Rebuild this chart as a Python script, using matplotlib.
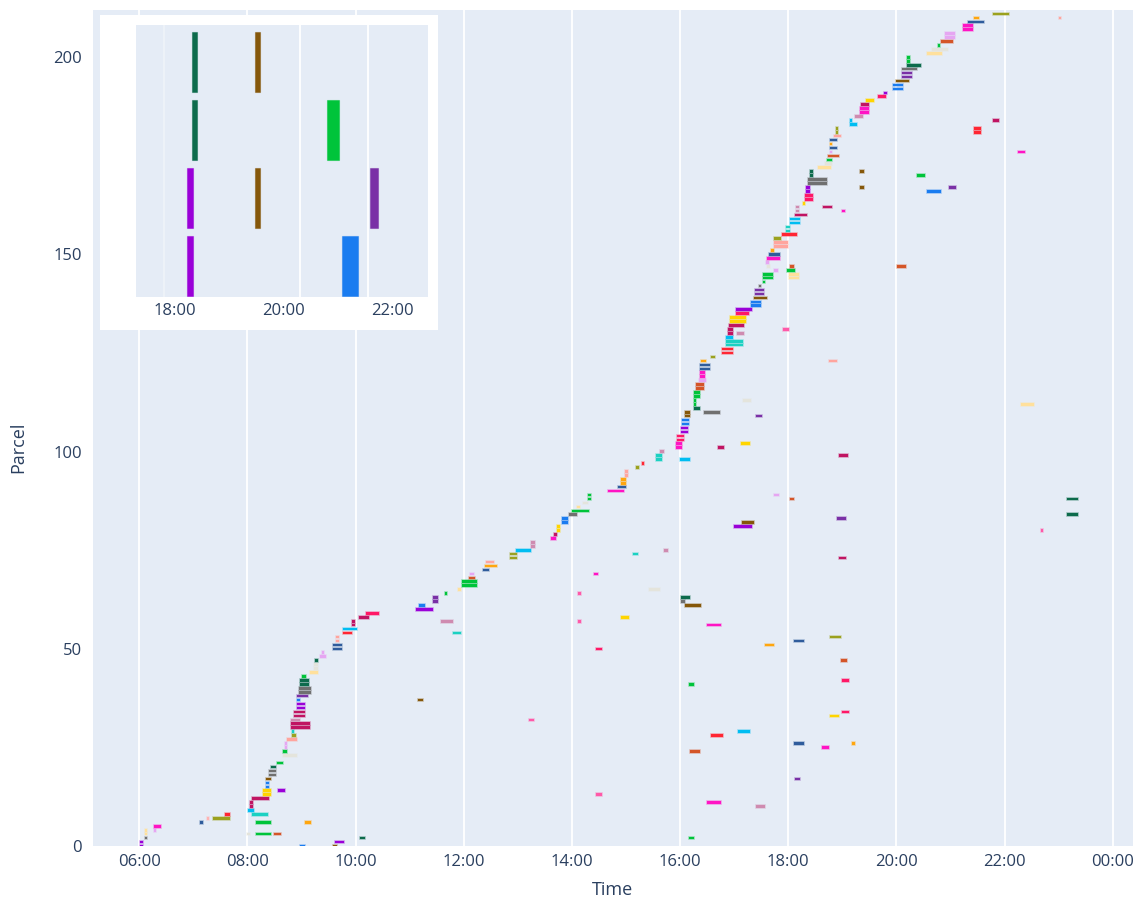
import numpy as np
import matplotlib
matplotlib.use("Agg")
import matplotlib.pyplot as plt
from matplotlib.colors import to_rgba
from matplotlib.ticker import FuncFormatter

# ---- data: one bar per delivery (parcel row, start hour, end hour, vehicle) ----
parcel = [
    0, 1, 2, 3, 4, 4, 5, 6, 7, 7, 8, 8, 9, 10, 11, 12, 13, 14, 14, 15,
    16, 17, 18, 19, 20, 21, 23, 24, 25, 26, 27, 28, 29, 30, 31, 32, 33, 34, 35, 36,
    37, 38, 39, 40, 41, 42, 43, 44, 45, 46, 47, 48, 49, 50, 51, 52, 53, 54, 55, 56,
    57, 58, 59, 60, 61, 62, 63, 64, 65, 66, 67, 68, 69, 70, 71, 72, 73, 74, 75, 76,
    77, 78, 79, 80, 81, 82, 83, 84, 85, 86, 87, 88, 89, 90, 91, 92, 93, 94, 95, 96,
    97, 98, 99, 100, 101, 102, 103, 104, 105, 106, 107, 108, 109, 110, 111, 112, 113, 114, 115, 116,
    117, 118, 119, 120, 121, 122, 123, 124, 125, 126, 127, 128, 129, 130, 130, 131, 132, 133, 134, 135,
    136, 137, 138, 139, 140, 141, 142, 143, 144, 145, 146, 147, 148, 149, 150, 151, 152, 153, 154, 155,
    156, 157, 158, 159, 160, 161, 162, 163, 164, 165, 166, 167, 168, 169, 170, 171, 172, 173, 174, 175,
    176, 177, 178, 179, 180, 181, 182, 183, 184, 185, 186, 187, 188, 189, 190, 191, 192, 193, 194, 195,
    196, 197, 198, 199, 200, 201, 202, 203, 204, 205, 206, 207, 208, 209, 210, 211,
    # late deliveries
    0, 0, 1, 2, 2, 3, 3, 3, 6, 6, 10, 11, 13, 17, 24, 25, 26, 26, 28, 29,
    32, 33, 34, 37, 41, 42, 47, 50, 51, 52, 53, 54, 56, 57, 57, 58, 61, 62, 63, 64,
    65, 69, 73, 74, 75, 80, 81, 82, 83, 84, 88, 88, 89, 98, 99, 101, 102, 109, 110, 112,
    113, 123, 131, 144, 145, 146, 147, 147, 161, 162, 166, 167, 167, 170, 171, 176, 181, 182, 184, 210,
]
start_h = [
    6.02, 6.02, 6.10, 6.10, 6.10, 6.27, 6.27, 7.13, 7.25, 7.37, 7.58, 8.09, 8.01, 8.05, 8.05, 8.09, 8.28, 8.28, 8.57, 8.34,
    8.34, 8.35, 8.39, 8.39, 8.43, 8.54, 8.66, 8.66, 8.69, 8.69, 8.73, 8.82, 8.82, 8.81, 8.81, 8.81, 8.87, 8.87, 8.91, 8.91,
    8.91, 8.92, 8.95, 8.95, 8.97, 8.97, 9.00, 9.15, 9.23, 9.23, 9.25, 9.34, 9.37, 9.58, 9.58, 9.63, 9.63, 9.76, 9.76, 9.93,
    9.93, 10.06, 10.19, 11.12, 11.18, 11.43, 11.43, 11.66, 11.89, 11.97, 11.97, 12.10, 12.12, 12.35, 12.40, 12.41, 12.86, 12.86, 12.96, 13.25,
    13.25, 13.62, 13.66, 13.73, 13.73, 13.81, 13.81, 13.94, 14.00, 14.10, 14.20, 14.30, 14.30, 14.67, 14.85, 14.90, 14.90, 14.99, 14.99, 15.18,
    15.30, 15.55, 15.55, 15.62, 15.92, 15.92, 15.95, 15.95, 16.01, 16.01, 16.04, 16.04, 16.09, 16.09, 16.25, 16.25, 16.25, 16.25, 16.25, 16.29,
    16.29, 16.35, 16.36, 16.36, 16.37, 16.37, 16.39, 16.57, 16.77, 16.77, 16.85, 16.85, 16.85, 16.88, 17.05, 16.88, 16.91, 16.93, 16.93, 17.04,
    17.04, 17.31, 17.31, 17.37, 17.39, 17.39, 17.45, 17.54, 17.54, 17.54, 17.74, 17.60, 17.58, 17.61, 17.65, 17.68, 17.73, 17.73, 17.74, 17.88,
    17.96, 17.96, 18.04, 18.04, 18.13, 18.14, 18.14, 18.27, 18.31, 18.31, 18.33, 18.33, 18.36, 18.36, 18.40, 18.40, 18.55, 18.68, 18.71, 18.73,
    18.77, 18.78, 18.78, 18.78, 18.85, 18.88, 18.88, 19.15, 19.15, 19.23, 19.32, 19.32, 19.34, 19.44, 19.66, 19.77, 19.93, 19.93, 19.99, 20.10,
    20.10, 20.10, 20.19, 20.20, 20.20, 20.57, 20.65, 20.76, 20.82, 20.89, 20.89, 21.23, 21.23, 21.33, 21.44, 21.79,
    8.97, 9.58, 9.61, 10.09, 16.17, 8.00, 8.15, 8.50, 8.15, 9.07, 17.40, 16.50, 14.45, 18.13, 16.19, 18.62, 18.10, 19.18, 16.58, 17.07,
    13.21, 18.78, 18.99, 11.16, 16.17, 18.99, 18.97, 14.45, 17.57, 18.10, 18.77, 11.81, 16.50, 11.58, 14.11, 14.90, 16.10, 16.02, 16.02, 14.11,
    15.42, 14.40, 18.93, 15.13, 15.71, 22.67, 17.00, 17.15, 18.91, 23.16, 18.03, 23.16, 17.73, 16.00, 18.94, 16.70, 17.13, 17.40, 16.45, 22.30,
    17.17, 18.76, 17.90, 18.02, 18.02, 17.98, 18.03, 20.02, 18.99, 18.65, 20.57, 19.32, 20.98, 20.39, 19.32, 22.25, 21.43, 21.43, 21.78, 23.00,
]
end_h = [
    6.07, 6.07, 6.15, 6.15, 6.15, 6.30, 6.40, 7.18, 7.28, 7.67, 7.67, 8.38, 8.12, 8.10, 8.10, 8.39, 8.43, 8.43, 8.70, 8.40,
    8.40, 8.43, 8.52, 8.52, 8.52, 8.65, 8.92, 8.74, 8.74, 8.74, 8.91, 8.89, 8.86, 9.15, 9.15, 8.98, 9.06, 9.06, 9.06, 9.06,
    8.97, 9.12, 9.17, 9.17, 9.13, 9.13, 9.09, 9.30, 9.30, 9.30, 9.31, 9.45, 9.42, 9.74, 9.74, 9.70, 9.70, 9.93, 10.02, 9.98,
    9.98, 10.25, 10.43, 11.44, 11.29, 11.52, 11.52, 11.69, 11.94, 12.25, 12.25, 12.20, 12.18, 12.46, 12.62, 12.56, 12.98, 12.98, 13.25, 13.32,
    13.32, 13.70, 13.73, 13.78, 13.78, 13.92, 13.92, 14.10, 14.32, 14.15, 14.30, 14.36, 14.36, 14.97, 15.00, 15.00, 15.00, 15.04, 15.04, 15.24,
    15.34, 15.66, 15.66, 15.71, 16.04, 16.04, 16.08, 16.08, 16.15, 16.15, 16.17, 16.17, 16.19, 16.19, 16.36, 16.29, 16.29, 16.37, 16.37, 16.45,
    16.45, 16.47, 16.46, 16.46, 16.56, 16.56, 16.47, 16.64, 16.97, 16.97, 17.16, 17.16, 16.97, 16.97, 17.18, 16.97, 17.18, 17.22, 17.22, 17.27,
    17.33, 17.49, 17.49, 17.61, 17.55, 17.55, 17.50, 17.57, 17.72, 17.72, 17.81, 17.66, 17.65, 17.85, 17.85, 17.74, 18.00, 18.00, 17.87, 18.17,
    18.04, 18.04, 18.21, 18.21, 18.35, 18.19, 18.19, 18.31, 18.46, 18.46, 18.40, 18.40, 18.71, 18.71, 18.46, 18.46, 18.79, 18.80, 18.80, 18.94,
    18.81, 18.91, 18.81, 18.91, 18.98, 18.92, 18.92, 19.28, 19.18, 19.39, 19.50, 19.50, 19.50, 19.58, 19.81, 19.83, 20.13, 20.13, 20.23, 20.28,
    20.28, 20.38, 20.46, 20.25, 20.25, 20.84, 20.96, 20.80, 21.04, 21.09, 21.09, 21.42, 21.42, 21.62, 21.52, 22.08,
    9.06, 9.65, 9.78, 10.18, 16.26, 8.04, 8.43, 8.62, 8.43, 9.17, 17.57, 16.76, 14.55, 18.22, 16.37, 18.75, 18.30, 19.24, 16.79, 17.29,
    13.30, 18.94, 19.13, 11.24, 16.26, 19.13, 19.08, 14.55, 17.74, 18.30, 18.97, 11.94, 16.76, 11.81, 14.17, 15.06, 16.38, 16.10, 16.19, 14.17,
    15.63, 14.49, 19.07, 15.22, 15.77, 22.72, 17.33, 17.36, 19.06, 23.35, 18.10, 23.35, 17.82, 16.19, 19.11, 16.81, 17.29, 17.51, 16.73, 22.55,
    17.31, 18.90, 18.02, 18.19, 18.19, 18.12, 18.10, 20.18, 19.05, 18.81, 20.82, 19.41, 21.11, 20.52, 19.41, 22.37, 21.56, 21.56, 21.90, 23.05,
]
vehicle = list(
    "AABCCDEFGHIJKLLLMMAN"
    "NOBBPQRQDDSHJLLTLLAA"
    "NUBBPPQCRRPDDFFSSIKL"
    "LLXANUUQCQQWDFVSHHKT"
    "TELMMNNBQCRQQEFVVSSH"
    "IJJTEEXXAANNOOPQQQQW"
    "WDEEFFVHIIJJKLTLLMMX"
    "ANNOUUBQQQDRDEFVSSHI"
    "JJKKLTTMXXAABBPPCRQW"
    "DFVFSHHKKTEELMXANNOU"
    "UBPQQCRQWDDEEFVH"
    "NOAPQRQWQVTEYUWEFVIK"
    "YMXOQXWXVFHJETYMOBPY"
    "RELJTYAOUPWPDKLLMUBC"
    "RSYCCQWWELNOUQOEIILS"
)

# inset: four parcels zoomed in (row, start, end, vehicle)
inset_row = [3, 3, 2, 2, 1, 1, 1, 0, 0]
inset_start = [18.31, 19.47, 18.31, 20.81, 18.22, 19.47, 21.59, 18.22, 21.07]
inset_end = [18.41, 19.57, 18.41, 21.02, 18.33, 19.57, 21.75, 18.33, 21.37]
inset_vehicle = ["P", "O", "P", "Q", "A", "O", "U", "A", "N"]

# ---- style ----
palette = {
    "A": "#9a00d8", "B": "#707070", "C": "#ffe09c", "D": "#e6a6f2", "E": "#ff14c4",
    "F": "#2f5c9c", "G": "#ffb3b3", "H": "#9ba11e", "I": "#ff2633", "J": "#1bd1c2",
    "K": "#00bdf2", "L": "#c01462", "M": "#ffd500", "N": "#1a7cf0", "O": "#85570a",
    "P": "#0d6b4c", "Q": "#00c43a", "R": "#e4e4dc", "S": "#ffa59e", "T": "#cf8bb0",
    "U": "#7a30a6", "V": "#ffa60f", "W": "#d45528", "X": "#ff1866", "Y": "#ff59a8",
}
BG = "#e5ecf6"
TXT = "#2a3f5f"
plt.rcParams["font.family"] = ["Open Sans", "DejaVu Sans"]

fig = plt.figure(figsize=(11.37, 9.02), dpi=100)
W, H = 1137, 902
ax = fig.add_axes([93 / W, 56 / H, 1040 / W, 836 / H])
ax.set_facecolor(BG)

p = np.array(parcel)
s = np.array(start_h)
e = np.array(end_h)
face = [palette[v] for v in vehicle]
edge = [to_rgba(palette[v], 0.4) for v in vehicle]
ax.barh(p, e - s, left=s, height=0.66, color=face, edgecolor=edge,
        linewidth=1.1, zorder=3)

ax.set_xlim(5.144, 24.375)
ax.set_ylim(0, 212)
ax.set_xticks(np.arange(6, 25, 2))
ax.xaxis.set_major_formatter(FuncFormatter(lambda h, _: f"{int(round(h)) % 24:02d}:00"))
ax.set_yticks([0, 50, 100, 150, 200])
ax.grid(axis="x", color="white", linewidth=1.3, zorder=1)
ax.grid(axis="y", visible=False)
ax.set_axisbelow(True)
for sp in ax.spines.values():
    sp.set_visible(False)
ax.tick_params(axis="x", length=0, pad=6, labelsize=12, labelcolor=TXT)
ax.tick_params(axis="y", length=0, pad=8, labelsize=12, labelcolor=TXT)
ax.set_xlabel("Time", fontsize=13, color=TXT)
ax.set_ylabel("Parcel", fontsize=13, color=TXT)
ax.xaxis.set_label_coords(0.5, -0.042)
ax.yaxis.set_label_coords(-0.063, 0.477)

# inset panel
panel = fig.add_axes([100 / W, (H - 330) / H, 338 / W, 315 / H])
panel.set_facecolor("white")
panel.set_xticks([])
panel.set_yticks([])
for sp in panel.spines.values():
    sp.set_visible(False)

ins = fig.add_axes([136 / W, (H - 297) / H, 292 / W, 272 / H])
ins.set_facecolor(BG)
ir = np.array(inset_row)
i_s = np.array(inset_start)
i_e = np.array(inset_end)
ins.barh(ir, i_e - i_s, left=i_s, height=0.88,
         color=[palette[v] for v in inset_vehicle],
         edgecolor=[to_rgba(palette[v], 0.5) for v in inset_vehicle],
         linewidth=0.8, zorder=3)
for gx, ga in [(17.80, 0.35), (20.30, 1.0), (21.56, 1.0)]:
    ins.axvline(gx, color="white", linewidth=1.3, alpha=ga, zorder=1)
ins.set_xlim(17.281, 22.664)
ins.set_ylim(-0.46, 3.54)
ins.set_xticks([18, 20, 22])
ins.xaxis.set_major_formatter(FuncFormatter(lambda h, _: f"{int(round(h)) % 24:02d}:00"))
ins.set_yticks([])
for sp in ins.spines.values():
    sp.set_visible(False)
ins.tick_params(axis="x", length=0, pad=4, labelsize=12, labelcolor=TXT)

fig.savefig("out.png", dpi=100, facecolor="white")
